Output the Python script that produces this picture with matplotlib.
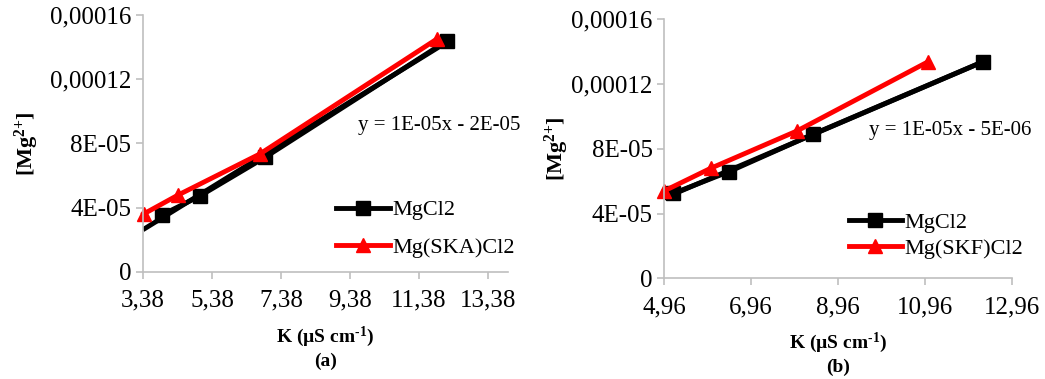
import numpy as np
import matplotlib
matplotlib.use("Agg")
import matplotlib.pyplot as plt

plt.rcParams['font.family'] = 'serif'
plt.rcParams['font.serif'] = ['Liberation Serif', 'Times New Roman', 'Nimbus Roman', 'DejaVu Serif']
plt.rcParams['mathtext.fontset'] = 'custom'
plt.rcParams['mathtext.rm'] = 'Liberation Serif'
plt.rcParams['mathtext.bf'] = 'Liberation Serif:bold'
plt.rcParams['mathtext.default'] = 'bf'

# panel (a)
k_a_mg = [3.92, 5.03, 6.92, 12.18]
c_a_mg = [3.53e-05, 4.72e-05, 7.13e-05, 1.438e-04]
k_a_ska = [3.40, 4.40, 6.77, 11.89]
c_a_ska = [3.60e-05, 4.78e-05, 7.34e-05, 1.449e-04]

# panel (b)
k_b_mg = [5.17, 6.45, 8.39, 12.29]
c_b_mg = [5.25e-05, 6.59e-05, 8.91e-05, 1.338e-04]
k_b_skf = [4.96, 6.03, 8.01, 11.03]
c_b_skf = [5.40e-05, 6.80e-05, 9.10e-05, 1.338e-04]

y_ticks = [0, 4e-05, 8e-05, 0.00012, 0.00016]
y_labels = ["0", "4E-05", "8E-05", "0,00012", "0,00016"]
x_ticks_a = [3.38, 5.38, 7.38, 9.38, 11.38, 13.38]
x_ticks_b = [4.96, 6.96, 8.96, 10.96, 12.96]

fig = plt.figure(figsize=(10.45, 3.79), dpi=100)
ax1 = fig.add_axes([0.1368, 0.2831, 0.3493, 0.6773])
ax2 = fig.add_axes([0.6357, 0.2657, 0.3327, 0.6833])

grey = '#BFBFBF'


def panel(ax, kx, cy, kx2, cy2, name2, xt, xlim, eq, eq_pos, leg_pos, leg_sp, ypad, tag):
    # trend line of the MgCl2 series, drawn from the axis start
    p = np.polyfit(kx, cy, 1)
    xs = np.array([xlim[0], kx[-1]])
    ax.plot(xs, np.polyval(p, xs), color='black', lw=3.5, solid_capstyle='butt')
    l1, = ax.plot(kx, cy, color='black', lw=3.5, marker='s', ms=10, label='MgCl2')
    l2, = ax.plot(kx2, cy2, color='#FF0000', lw=3.5, marker='^', ms=10, label=name2,
                  clip_on=False)
    ax.set_xlim(*xlim)
    ax.set_ylim(0, 0.00016)
    ax.set_xticks(xt)
    ax.set_xticklabels([f"{v:.2f}".replace('.', ',') for v in xt])
    ax.set_yticks(y_ticks)
    ax.set_yticklabels(y_labels)
    for s in ['top', 'right']:
        ax.spines[s].set_visible(False)
    for s in ['left', 'bottom']:
        ax.spines[s].set_color(grey)
        ax.spines[s].set_linewidth(1.2)
    ax.tick_params(axis='both', colors=grey, labelcolor='black', labelsize=18,
                   length=5, width=1.2, direction='out')
    ax.tick_params(axis='x', pad=8)
    ax.set_ylabel(r'[Mg$^{2{+}}$]', fontsize=16, fontweight='bold', labelpad=ypad)
    ax.set_xlabel('K (µS cm$^{\\text{-}1}$)\n' + tag, fontsize=14, fontweight='bold',
                  linespacing=1.3, labelpad=9)
    ax.text(eq_pos[0], eq_pos[1], eq, transform=ax.transAxes, fontsize=15,
            ha='left', va='center')
    ax.legend(handles=[l1, l2], loc='upper left', bbox_to_anchor=leg_pos,
              frameon=False, fontsize=16, handlelength=2.4, handletextpad=0.1,
              labelspacing=leg_sp, borderpad=0, borderaxespad=0)


panel(ax1, k_a_mg, c_a_mg, k_a_ska, c_a_ska, 'Mg(SKA)Cl2', x_ticks_a,
      (3.38, 13.96), 'y = 1E-05x - 2E-05', (0.59, 0.57), (0.53, 0.28), 0.75, 6, '(a)')
panel(ax2, k_b_mg, c_b_mg, k_b_skf, c_b_skf, 'Mg(SKF)Cl2', x_ticks_b,
      (4.96, 12.96), 'y = 1E-05x - 5E-06', (0.59, 0.57), (0.53, 0.255), 0.25, 0, '(b)')

fig.savefig('out.png', dpi=100)
